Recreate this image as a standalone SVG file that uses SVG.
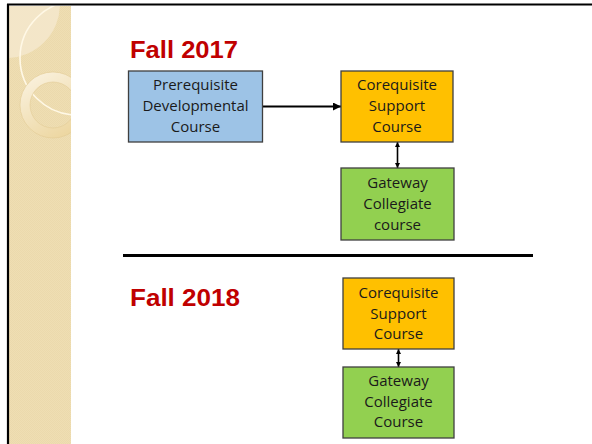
<svg xmlns="http://www.w3.org/2000/svg" width="592" height="444" viewBox="0 0 592 444">
  <style>
    .box { stroke: #3f3f3f; stroke-width: 1.3; }
    .lbl { font-family: "Open Sans", "Noto Sans", sans-serif; font-size: 15px; fill: #1a1a1a; text-anchor: middle; }
    .title { font-family: "Liberation Sans", Arial, sans-serif; font-weight: bold; font-size: 23px; fill: #C00000; }
    .conn { stroke: #000; fill: none; }
  </style>
  <defs>
    <marker id="ah" viewBox="0 0 10 10" refX="10" refY="5" markerWidth="5" markerHeight="5" orient="auto-start-reverse" markerUnits="userSpaceOnUse">
      <path d="M0,0 L10,5 L0,10 z" fill="#000"/>
    </marker>
    <marker id="ahBig" viewBox="0 0 10 10" refX="10" refY="5" markerWidth="8" markerHeight="8" orient="auto" markerUnits="userSpaceOnUse">
      <path d="M0,0 L10,5 L0,10 z" fill="#000"/>
    </marker>
    <linearGradient id="ringGrad" x1="0" y1="0" x2="0.6" y2="1">
      <stop offset="0" stop-color="#FBF4E4"/>
      <stop offset="1" stop-color="#EDD7A2"/>
    </linearGradient>
    <pattern id="chk" width="2" height="2" patternUnits="userSpaceOnUse">
      <rect width="2" height="2" fill="#EFDEB3"/>
      <rect width="1" height="1" fill="#EBD9AC"/>
      <rect x="1" y="1" width="1" height="1" fill="#EBD9AC"/>
    </pattern>
    <clipPath id="strip"><rect x="9" y="6" width="62" height="438"/></clipPath>
  </defs>

  <rect width="592" height="444" fill="#fff"/>

  <!-- decorative strip -->
  <g id="strip-deco" clip-path="url(#strip)">
    <rect x="9" y="6" width="62" height="438" fill="url(#chk)"/>
    <circle cx="6" cy="4" r="54" fill="#F4E8CC" opacity="0.85"/>
    <circle cx="77" cy="58" r="57" fill="none" stroke="#FFF8E6" stroke-width="1.6"/>
    <path d="M20,105 a33,33 0 1,0 66,0 a33,33 0 1,0 -66,0 z M30,105 a23,23 0 1,1 46,0 a23,23 0 1,1 -46,0 z" fill="url(#ringGrad)" fill-rule="evenodd" stroke="#E2CB95" stroke-width="0.6"/>
  </g>

  <!-- frame -->
  <line x1="7" y1="4.5" x2="592" y2="4.5" stroke="#000" stroke-width="2.2"/>
  <line x1="8" y1="4" x2="8" y2="444" stroke="#000" stroke-width="2.2"/>

  <text class="title" x="130" y="57.5" textLength="108" lengthAdjust="spacingAndGlyphs">Fall 2017</text>
  <text class="title" x="130" y="305.5" textLength="110" lengthAdjust="spacingAndGlyphs">Fall 2018</text>

  <g id="connectors">
    <line class="conn" x1="262" y1="106.5" x2="341" y2="106.5" stroke-width="2.2" marker-end="url(#ahBig)"/>
    <line class="conn" x1="397.5" y1="142" x2="397.5" y2="168" stroke-width="1.6" marker-start="url(#ah)" marker-end="url(#ah)"/>
    <line class="conn" x1="398.5" y1="349" x2="398.5" y2="367" stroke-width="1.6" marker-start="url(#ah)" marker-end="url(#ah)"/>
    <line class="conn" x1="123" y1="255.5" x2="533" y2="255.5" stroke-width="3"/>
  </g>

  <g id="prereq">
    <rect class="box" x="128.5" y="71" width="134" height="71" fill="#9DC3E6"/>
    <text class="lbl" x="195.5" y="90">Prerequisite</text>
    <text class="lbl" x="195.5" y="111">Developmental</text>
    <text class="lbl" x="195.5" y="132">Course</text>
  </g>

  <g id="coreq1">
    <rect class="box" x="341" y="71" width="112" height="71" fill="#FFC000"/>
    <text class="lbl" x="397" y="90">Corequisite</text>
    <text class="lbl" x="397" y="111">Support</text>
    <text class="lbl" x="397" y="132">Course</text>
  </g>

  <g id="gateway1">
    <rect class="box" x="341" y="168" width="113" height="72" fill="#92D050"/>
    <text class="lbl" x="397.5" y="188">Gateway</text>
    <text class="lbl" x="397.5" y="209">Collegiate</text>
    <text class="lbl" x="397.5" y="230">course</text>
  </g>

  <g id="coreq2">
    <rect class="box" x="343" y="278" width="111" height="71" fill="#FFC000"/>
    <text class="lbl" x="398.5" y="298">Corequisite</text>
    <text class="lbl" x="398.5" y="318.5">Support</text>
    <text class="lbl" x="398.5" y="339">Course</text>
  </g>

  <g id="gateway2">
    <rect class="box" x="343" y="367" width="111" height="71" fill="#92D050"/>
    <text class="lbl" x="398.5" y="386">Gateway</text>
    <text class="lbl" x="398.5" y="406.5">Collegiate</text>
    <text class="lbl" x="398.5" y="427">Course</text>
  </g>
</svg>
